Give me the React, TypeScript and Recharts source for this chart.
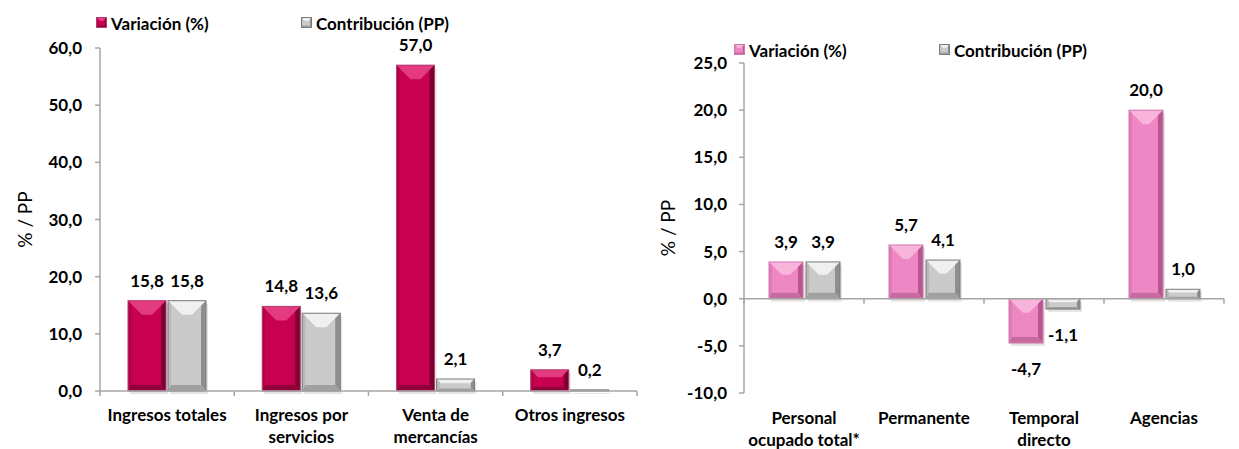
import { BarChart, Bar, XAxis, YAxis, ReferenceLine, LabelList } from "recharts";

// left chart: ingresos
const ingresosCats = ["Ingresos totales", "Ingresos por\nservicios", "Venta de\nmercancías", "Otros ingresos"];
const ingresosVariacion = [15.8, 14.8, 57.0, 3.7];
const ingresosContribucion = [15.8, 13.6, 2.1, 0.2];
const ingresosTicks = [0, 10, 20, 30, 40, 50, 60];

// right chart: personal ocupado
const personalCats = ["Personal\nocupado total*", "Permanente", "Temporal\ndirecto", "Agencias"];
const personalVariacion = [3.9, 5.7, -4.7, 20.0];
const personalContribucion = [3.9, 4.1, -1.1, 1.0];
const personalTicks = [-10, -5, 0, 5, 10, 15, 20, 25];

const ingresosData = ingresosCats.map((cat, i) => ({
  cat,
  variacion: ingresosVariacion[i],
  contribucion: ingresosContribucion[i],
}));
const personalData = personalCats.map((cat, i) => ({
  cat,
  variacion: personalVariacion[i],
  contribucion: personalContribucion[i],
}));

const FONT = "Lato, 'Liberation Sans', sans-serif";
const FS = 17;
const AXIS = "#a6a6a6";

const crimson = { face: "#c7004f", top: "#e43a80", left: "#b00046", right: "#7e0032", bottom: "#900039", stroke: "#b0406e" };
const gray = { face: "#cacaca", top: "#f0f0f0", left: "#b8b8b8", right: "#8e8e8e", bottom: "#a0a0a0", stroke: "#7a7a7a" };
const pink = { face: "#ee88c4", top: "#f9b4dc", left: "#e07ab5", right: "#b9558f", bottom: "#c66a9f", stroke: "#d07aae" };

const fmt = (v: number) => v.toFixed(1).replace(".", ",");

function bevel(pal: any, x: number, y: number, w: number, h: number, shadow = true) {
  if (h < 0) {
    y = y + h;
    h = -h;
  }
  if (!w || h <= 0) return <g />;
  const tb = Math.min(14, h * 0.35);
  const bb = Math.min(6, h * 0.2);
  const sl = Math.min(3, w * 0.1, h * 0.3);
  const sr = Math.min(5, w * 0.15, h * 0.3);
  const x2 = x + w;
  const y2 = y + h;
  return (
    <g>
      {shadow && <rect x={x + 2} y={y + 3} width={w} height={h} fill="#000" opacity={0.1} />}
      <rect x={x} y={y} width={w} height={h} fill={pal.face} />
      {h > 3 && (
        <>
          <polygon points={`${x},${y} ${x2},${y} ${x2 - tb},${y + tb} ${x + tb},${y + tb}`} fill={pal.top} />
          <polygon points={`${x},${y} ${x + sl},${y + sl} ${x + sl},${y2 - bb} ${x},${y2}`} fill={pal.left} />
          <polygon points={`${x2},${y} ${x2},${y2} ${x2 - sr},${y2 - bb} ${x2 - sr},${y + sr}`} fill={pal.right} />
          <polygon points={`${x},${y2} ${x + sl},${y2 - bb} ${x2 - sr},${y2 - bb} ${x2},${y2}`} fill={pal.bottom} />
        </>
      )}
      <rect x={x} y={y} width={w} height={h} fill="none" stroke={pal.stroke} strokeWidth={1} />
    </g>
  );
}

const bevelShape = (pal: any) => (props: any) => bevel(pal, props.x, props.y, props.width, props.height);

const ValueLabel = (props: any) => {
  const { x, y, width, height, value } = props;
  const top = Math.min(y, y + height);
  const bottom = Math.max(y, y + height);
  const ty = value < 0 ? bottom + 32 : top - 14;
  return (
    <text x={x + width / 2} y={ty} textAnchor="middle" fontFamily={FONT} fontWeight={700} fontSize={FS} fill="#000">
      {fmt(value)}
    </text>
  );
};

const CatTick = (props: any) => {
  const { x, y, payload, first } = props;
  const lines = String(payload.value).split("\n");
  return (
    <text x={x} y={y} textAnchor="middle" fontFamily={FONT} fontWeight={700} fontSize={FS} fill="#000">
      {lines.map((l, i) => (
        <tspan key={i} x={x} dy={i === 0 ? first : 22}>
          {l}
        </tspan>
      ))}
    </text>
  );
};

// zero line with tick marks between categories (Excel style)
const zeroAxis = (count: number) => (props: any) => {
  const { x1, x2, y1 } = props;
  const step = (x2 - x1) / count;
  const marks = [];
  for (let i = 0; i <= count; i++) {
    const mx = x1 + step * i;
    marks.push(<line key={i} x1={mx} x2={mx} y1={y1} y2={y1 + 5} stroke={AXIS} strokeWidth={1.5} />);
  }
  return (
    <g>
      <line x1={x1} x2={x2} y1={y1} y2={y1} stroke={AXIS} strokeWidth={1.5} />
      {marks}
    </g>
  );
};

const yTickStyle = { fontFamily: FONT, fontWeight: 700, fontSize: FS, fill: "#000" };

function LegendItem({ pal, text, left, top }: any) {
  return (
    <div style={{ position: "absolute", left, top, display: "flex", alignItems: "center", height: 20 }}>
      <svg width={12} height={12} style={{ marginRight: 3 }}>
        {bevel(pal, 0.5, 0.5, 10, 10, false)}
      </svg>
      <span style={{ fontFamily: FONT, fontWeight: 700, fontSize: FS, color: "#000", whiteSpace: "nowrap" }}>{text}</span>
    </div>
  );
}

export default function App() {
  return (
    <div style={{ position: "absolute", left: 0, top: 0, width: 1239, height: 449, background: "#fff" }}>
      <div style={{ position: "absolute", left: 0, top: 0 }}>
        <BarChart
          width={650}
          height={449}
          data={ingresosData}
          margin={{ top: 48, right: 13, bottom: 0, left: 10 }}
          barGap={2}
          barCategoryGap={28}
        >
          <XAxis
            dataKey="cat"
            axisLine={false}
            tickLine={false}
            tickSize={0}
            tickMargin={0}
            height={58}
            interval={0}
            tick={<CatTick first={30} />}
          />
          <YAxis
            domain={[0, 60]}
            ticks={ingresosTicks}
            width={90}
            stroke={AXIS}
            strokeWidth={1.5}
            tickSize={5}
            tickMargin={13}
            tick={yTickStyle}
            tickFormatter={fmt}
            label={{ value: "% / PP", angle: -90, position: "insideLeft", offset: 15, style: { fontFamily: FONT, fontSize: 19, fill: "#000", textAnchor: "middle" } }}
          />
          <Bar dataKey="variacion" shape={bevelShape(crimson)} isAnimationActive={false}>
            <LabelList dataKey="variacion" content={<ValueLabel />} />
          </Bar>
          <Bar dataKey="contribucion" shape={bevelShape(gray)} isAnimationActive={false}>
            <LabelList dataKey="contribucion" content={<ValueLabel />} />
          </Bar>
          <ReferenceLine y={0} shape={zeroAxis(ingresosCats.length)} />
        </BarChart>
      </div>
      <LegendItem pal={crimson} text="Variación (%)" left={96} top={13} />
      <LegendItem pal={gray} text="Contribución (PP)" left={301} top={13} />

      <div style={{ position: "absolute", left: 640, top: 0 }}>
        <BarChart
          width={599}
          height={449}
          data={personalData}
          margin={{ top: 63, right: 15, bottom: 0, left: 10 }}
          barGap={3}
          barCategoryGap={25}
        >
          <XAxis
            dataKey="cat"
            axisLine={false}
            tickLine={false}
            tickSize={0}
            tickMargin={0}
            height={56}
            interval={0}
            tick={<CatTick first={31} />}
          />
          <YAxis
            domain={[-10, 25]}
            ticks={personalTicks}
            width={94}
            stroke={AXIS}
            strokeWidth={1.5}
            tickSize={5}
            tickMargin={12}
            tick={yTickStyle}
            tickFormatter={fmt}
            label={{ value: "% / PP", angle: -90, position: "insideLeft", offset: 18, style: { fontFamily: FONT, fontSize: 19, fill: "#000", textAnchor: "middle" } }}
          />
          <Bar dataKey="variacion" shape={bevelShape(pink)} isAnimationActive={false}>
            <LabelList dataKey="variacion" content={<ValueLabel />} />
          </Bar>
          <Bar dataKey="contribucion" shape={bevelShape(gray)} isAnimationActive={false}>
            <LabelList dataKey="contribucion" content={<ValueLabel />} />
          </Bar>
          <ReferenceLine y={0} shape={zeroAxis(personalCats.length)} />
        </BarChart>
      </div>
      <LegendItem pal={pink} text="Variación (%)" left={734} top={40} />
      <LegendItem pal={gray} text="Contribución (PP)" left={939} top={40} />
    </div>
  );
}
